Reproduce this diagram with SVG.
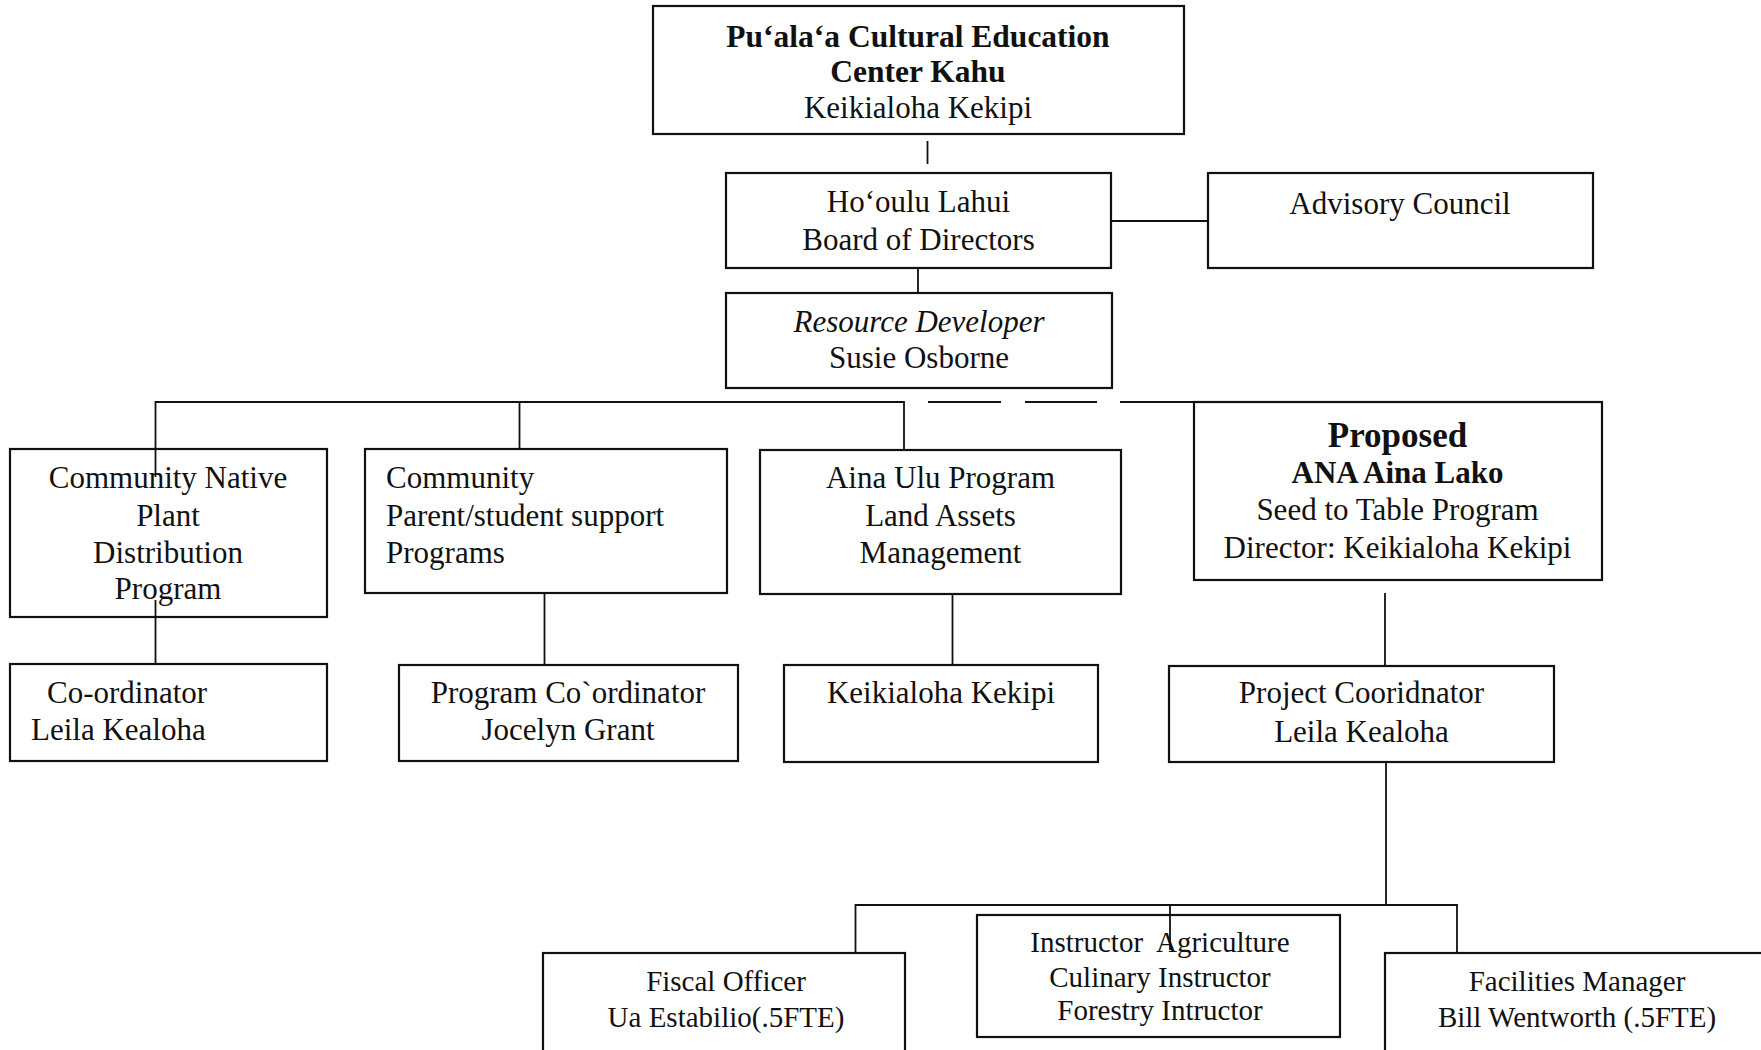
<svg xmlns="http://www.w3.org/2000/svg" width="1761" height="1050" viewBox="0 0 1761 1050">
<style>
  .box { fill: #ffffff; stroke: #111111; stroke-width: 2.2; }
  .conn { fill: none; stroke: #111111; stroke-width: 1.8; }
  .dash { fill: none; stroke: #111111; stroke-width: 2.2; }
  text { font-family: "Liberation Serif", "Times New Roman", serif; font-size: 31px; fill: #111111; }
  .c { text-anchor: middle; }
  .b { font-weight: bold; }
  .i { font-style: italic; }
  .sm { font-size: 29px; }
</style>
<rect x="0" y="0" width="1761" height="1050" fill="#ffffff"/>

<g id="connectors">
  <line class="conn" x1="927.5" y1="141" x2="927.5" y2="164"/>
  <line class="conn" x1="918" y1="268" x2="918" y2="293"/>
  <line class="conn" x1="1111" y1="221" x2="1208" y2="221"/>
  <polyline class="conn" points="155.5,477 155.5,402 904,402 904,450"/>
  <line class="conn" x1="519.5" y1="402" x2="519.5" y2="449"/>
  <line class="dash" x1="928" y1="402" x2="1001" y2="402"/>
  <line class="dash" x1="1025" y1="402" x2="1097" y2="402"/>
  <line class="dash" x1="1120" y1="402" x2="1194" y2="402"/>
  <line class="conn" x1="155.5" y1="600" x2="155.5" y2="664"/>
  <line class="conn" x1="544.5" y1="593" x2="544.5" y2="665"/>
  <line class="conn" x1="952.5" y1="594" x2="952.5" y2="666"/>
  <line class="conn" x1="1385" y1="593" x2="1385" y2="666"/>
  <line class="conn" x1="1386" y1="762" x2="1386" y2="905"/>
  <polyline class="conn" points="855.5,953 855.5,905 1457,905 1457,953"/>
</g>

<g id="node-center">
  <rect class="box" x="653" y="6" width="531" height="128"/>
  <text class="c b" x="918" y="47" style="font-size:31.5px">Pu‘ala‘a Cultural Education</text>
  <text class="c b" x="918" y="82" style="font-size:31.5px">Center Kahu</text>
  <text class="c" x="918" y="118">Keikialoha Kekipi</text>
</g>

<g id="node-board">
  <rect class="box" x="726" y="173" width="385" height="95"/>
  <text class="c" x="918.5" y="212">Ho‘oulu Lahui</text>
  <text class="c" x="918.5" y="250">Board of Directors</text>
</g>

<g id="node-advisory">
  <rect class="box" x="1208" y="173" width="385" height="95"/>
  <text class="c" x="1400" y="214">Advisory Council</text>
</g>

<g id="node-resource">
  <rect class="box" x="726" y="293" width="386" height="95"/>
  <text class="c i" x="919" y="332">Resource Developer</text>
  <text class="c" x="919" y="368">Susie Osborne</text>
</g>

<g id="node-native-plant">
  <rect class="box" x="10" y="449" width="317" height="168"/>
  <text class="c" x="168" y="488">Community Native</text>
  <text class="c" x="168" y="526">Plant</text>
  <text class="c" x="168" y="563">Distribution</text>
  <text class="c" x="168" y="599">Program</text>
</g>

<g id="node-parent-student">
  <rect class="box" x="365" y="449" width="362" height="144"/>
  <text x="386" y="488">Community</text>
  <text x="386" y="526">Parent/student support</text>
  <text x="386" y="563">Programs</text>
</g>

<g id="node-aina-ulu">
  <rect class="box" x="760" y="450" width="361" height="144"/>
  <text class="c" x="940.5" y="488">Aina Ulu Program</text>
  <text class="c" x="940.5" y="526">Land Assets</text>
  <text class="c" x="940.5" y="563">Management</text>
</g>

<g id="node-proposed">
  <rect class="box" x="1194" y="402" width="408" height="178"/>
  <text class="c b" x="1397.5" y="447" style="font-size:35px">Proposed</text>
  <text class="c b" x="1397.5" y="483">ANA Aina Lako</text>
  <text class="c" x="1397.5" y="520">Seed to Table Program</text>
  <text class="c" x="1397.5" y="558">Director: Keikialoha Kekipi</text>
</g>

<g id="node-coordinator-leila">
  <rect class="box" x="10" y="664" width="317" height="97"/>
  <text x="47" y="703">Co-ordinator</text>
  <text x="31" y="740">Leila Kealoha</text>
</g>

<g id="node-program-coordinator">
  <rect class="box" x="399" y="665" width="339" height="96"/>
  <text class="c" x="568" y="703">Program Co`ordinator</text>
  <text class="c" x="568" y="740">Jocelyn Grant</text>
</g>

<g id="node-keikialoha">
  <rect class="box" x="784" y="665" width="314" height="97"/>
  <text class="c" x="941" y="703">Keikialoha Kekipi</text>
</g>

<g id="node-project-coordinator">
  <rect class="box" x="1169" y="666" width="385" height="96"/>
  <text class="c" x="1361.5" y="703">Project Cooridnator</text>
  <text class="c" x="1361.5" y="742">Leila Kealoha</text>
</g>

<g id="node-fiscal">
  <rect class="box" x="543" y="953" width="362" height="130"/>
  <text class="c sm" x="726" y="991">Fiscal Officer</text>
  <text class="c sm" x="726" y="1027">Ua Estabilio(.5FTE)</text>
</g>

<g id="node-instructors">
  <rect class="box" x="977" y="915" width="363" height="122"/>
  <text class="c sm" x="1160" y="952" xml:space="preserve">Instructor  Agriculture</text>
  <text class="c sm" x="1160" y="987">Culinary Instructor</text>
  <text class="c sm" x="1160" y="1020">Forestry Intructor</text>
</g>

<g id="node-facilities">
  <rect class="box" x="1385" y="953" width="400" height="130"/>
  <text class="c sm" x="1577" y="991">Facilities Manager</text>
  <text class="c sm" x="1577" y="1027">Bill Wentworth (.5FTE)</text>
</g>

<g id="connectors-overlay">
  <line class="conn" x1="155.5" y1="449" x2="155.5" y2="477"/>
  <line class="conn" x1="155.5" y1="600" x2="155.5" y2="617"/>
  <line class="conn" x1="1170" y1="905" x2="1170" y2="950"/>
</g>
</svg>
